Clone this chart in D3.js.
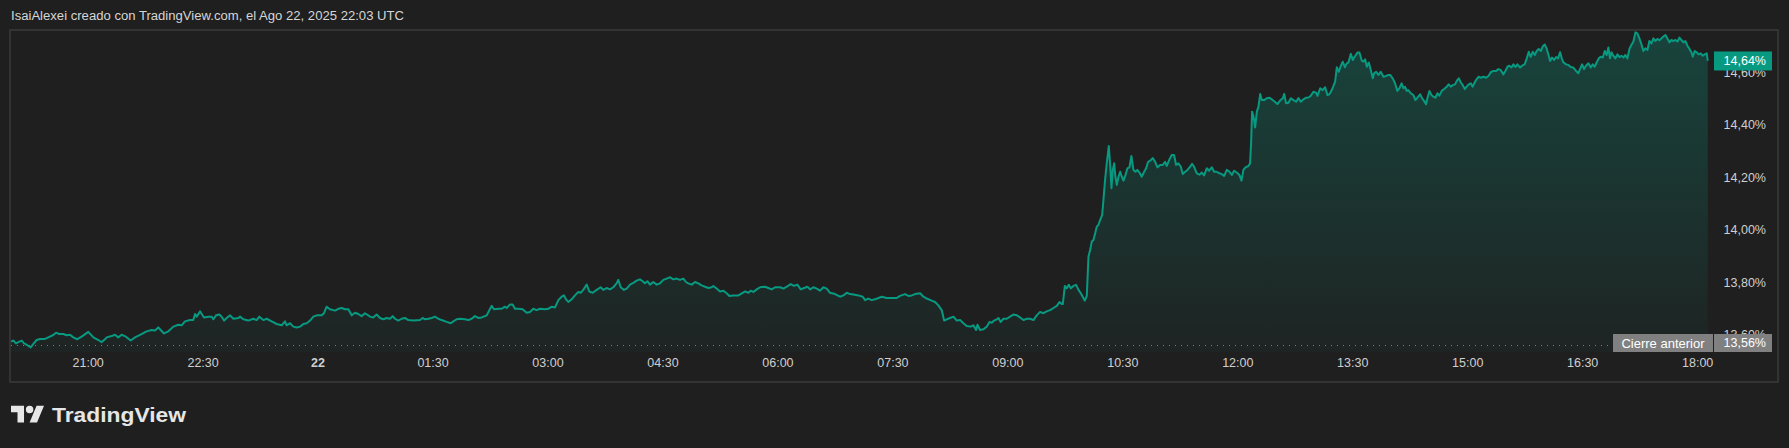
<!DOCTYPE html>
<html><head><meta charset="utf-8">
<script src="https://cdn.jsdelivr.net/npm/d3@7"></script>
<style>html,body{margin:0;padding:0;background:#1f1f1f;overflow:hidden}svg{display:block}</style>
</head><body><svg id="c" width="1789" height="448"></svg>
<script>
const titleText = "IsaiAlexei creado con TradingView.com, el Ago 22, 2025 22:03 UTC";
const startTime = "2025-08-21T20:00:00Z";
const endMinute = 1328.5;
// minutes elapsed since startTime
const minutes = [
0,1.8,3.9,5.7,8.4,10.2,12.3,15.4,17.5,20.1,22.7,26.6,29.2,33.1,35.2,37.8,41.0,43.6,46.2,48.8,51.9,55.3,60.5,64.5,68.4,71.0,73.6,74.9,78.8,81.4,84.0,86.6,89.2,93.7,97.1,101.0,106.2,110.1,112.7,115.3,117.2,119.8,123.2,127.1,131.0,133.6,136.2,140.1,142.7,144.1,145.4,148.0,149.3,151.1,154.5,157.1,158.4,160.5,163.1,164.9,166.8,168.8,171.5,174.1,178.0,179.3,181.9,185.8,189.7,192.3,194.4,197.5,200.2,204.1,208.0,211.9,214.5,215.8,218.4,221.0,223.6,226.3,228.9,231.5,234.1,236.7,239.3,243.2,245.0,247.1,249.7,253.7,256.3,258.9,261.5,264.1,266.7,269.3,271.9,274.5,277.1,279.7,
281.0,283.6,286.2,288.9,291.5,294.1,296.7,298.8,300.6,303.2,305.8,308.4,311.0,315.0,320.2,322.3,324.1,326.7,329.3,331.9,334.5,337.1,341.1,344.2,346.3,348.9,351.5,355.4,358.0,360.6,363.2,365.8,368.5,372.4,374.5,376.3,378.1,381.5,384.1,386.7,388.0,390.6,392.7,394.5,397.2,400.5,403.7,406.3,408.9,411.5,414.1,418.0,420.6,423.3,425.9,428.5,431.1,432.9,434.5,436.3,438.9,441.5,444.1,446.0,448.0,450.7,452.7,455.4,458.5,461.6,463.7,466.3,468.9,471.5,474.1,475.4,477.3,479.9,482.0,484.6,487.2,489.8,492.4,494.5,496.3,498.2,500.2,502.8,505.5,508.1,510.7,513.3,515.9,518.5,521.1,523.7,526.3,528.4,530.2,532.9,535.5,538.1,540.7,543.3,545.9,548.5,549.8,552.4,
555.1,557.7,560.3,562.4,565.5,569.5,572.1,574.7,577.3,579.1,581.2,583.8,586.4,590.3,592.9,595.5,598.2,602.1,604.7,607.3,610.4,613.0,615.6,618.3,620.9,623.5,625.6,628.2,630.8,633.4,636.0,638.6,641.2,645.1,649.0,651.7,654.3,656.9,659.5,663.4,666.8,668.6,671.2,673.8,676.4,679.1,681.7,685.6,689.5,693.4,696.0,699.9,702.5,705.2,707.8,711.7,714.3,716.9,720.8,723.4,726.0,728.6,730.5,732.6,735.2,737.8,740.4,743.0,745.6,748.2,751.3,753.4,755.5,756.6,758.6,761.3,763.9,766.0,767.8,769.6,771.7,773.0,774.8,776.9,779.5,782.1,784.7,787.4,790.0,792.6,795.2,797.8,800.4,803.0,805.6,808.2,810.8,813.5,816.1,818.7,820.8,822.6,
823.4,825.0,826.5,828.1,829.7,831.7,833.8,835.7,837.5,839.0,840.6,842.2,843.5,844.8,846.1,847.4,848.7,850.0,851.3,852.6,854.2,855.2,856.5,857.8,859.4,860.4,861.5,862.5,863.6,864.6,865.7,867.0,868.3,869.6,870.9,872.5,874.0,875.6,877.1,878.7,880.3,881.8,883.4,885.2,887.1,888.6,890.2,891.8,893.8,895.7,897.5,899.6,901.7,903.5,904.8,906.9,908.7,910.5,912.1,913.9,915.8,917.3,919.2,921.0,923.1,924.6,926.2,928.3,930.4,932.2,934.0,936.1,938.0,940.0,941.9,943.9,946.0,947.9,949.7,951.8,953.9,955.7,957.5,959.6,961.7,963.3,964.8,966.4,968.7,970.0,970.8,971.6,972.7,974.0,975.3,976.6,977.9,979.2,981.0,983.1,985.2,987.0,989.6,991.4,993.5,995.6,996.7,998.2,1000.1,1001.9,1004.0,1006.1,1007.9,1009.7,1011.8,1013.9,1015.7,1017.5,1019.6,1021.7,1022.8,1024.9,1026.9,1028.8,1030.6,1032.2,1034.0,1035.3,1036.6,1037.9,1039.5,1041.0,1042.6,1044.2,1045.7,1047.0,1048.9,1050.4,1052.3,1054.1,1055.6,1057.5,1058.8,1060.1,1061.4,1063.0,1064.5,1066.1,1067.1,1068.7,1070.5,1072.3,1074.4,1076.5,1078.3,
1079.6,1081.7,1083.5,1085.3,1086.9,1088.7,1090.0,1091.3,1092.6,1093.9,1095.8,1097.9,1099.4,1101.0,1103.1,1104.7,1106.2,1107.8,1108.8,1110.4,1112.0,1113.5,1115.1,1116.7,1118.2,1120.1,1121.9,1124.0,1125.5,1127.1,1128.7,1130.5,1131.8,1133.4,1134.9,1136.5,1138.1,1139.6,1141.2,1142.8,1144.3,1145.9,1147.4,1149.0,1150.6,1152.7,1154.8,1156.8,1158.4,1160.5,1162.6,1164.4,1166.2,1168.3,1169.9,1171.5,1173.0,1174.6,1176.2,1177.7,1179.3,1181.4,1182.9,1185.0,1186.6,1188.2,1189.7,1191.3,1192.9,1194.4,1196.0,1197.6,1199.1,1200.7,1202.3,1203.8,1204.9,1206.4,1208.0,1209.6,1211.1,1212.7,1214.0,1215.3,1217.4,1219.2,1221.0,1223.1,1225.2,1227.0,1228.3,1229.9,1231.5,1233.0,1234.9,1236.7,1238.3,1239.8,1241.4,1243.0,1244.5,1246.1,1247.7,1249.2,1250.5,1251.8,1252.9,1254.4,1256.0,1257.6,1259.1,1260.7,1262.3,1263.8,1265.4,1267.0,1268.5,1270.1,1271.7,1273.2,1274.8,1276.4,1277.9,1279.5,1281.1,1282.6,1284.2,1285.8,1287.3,1288.9,1290.5,1292.0,1293.6,1295.2,1296.7,1298.3,1299.9,1301.4,1303.0,1304.6,1306.1,1307.7,1309.3,1310.8,1312.4,1314.0,1315.5,1316.6,1318.1,1319.7,1321.2,1322.8,1324.4,1325.9,1327.5,1328.3
];
// yield, percent
const values = [
13.573,13.577,13.566,13.571,13.577,13.566,13.561,13.551,13.564,13.579,13.583,13.583,13.589,13.598,13.607,13.602,13.602,13.597,13.599,13.589,13.582,13.592,13.610,13.589,13.579,13.571,13.582,13.589,13.594,13.599,13.589,13.599,13.594,13.577,13.589,13.599,13.612,13.617,13.615,13.627,13.617,13.604,13.612,13.630,13.637,13.635,13.650,13.655,13.655,13.678,13.668,13.688,13.678,13.665,13.668,13.668,13.658,13.673,13.676,13.668,13.653,13.663,13.673,13.660,13.663,13.668,13.658,13.653,13.660,13.655,13.668,13.655,13.660,13.650,13.640,13.635,13.650,13.635,13.643,13.630,13.627,13.630,13.640,13.643,13.653,13.668,13.673,13.673,13.681,13.706,13.696,13.691,13.698,13.701,13.696,13.696,13.673,13.683,13.678,13.670,13.681,13.673,
13.668,13.665,13.676,13.663,13.658,13.663,13.660,13.670,13.660,13.653,13.660,13.663,13.655,13.653,13.655,13.663,13.658,13.660,13.663,13.668,13.660,13.655,13.648,13.643,13.650,13.658,13.660,13.658,13.655,13.660,13.670,13.663,13.665,13.673,13.693,13.709,13.696,13.698,13.698,13.706,13.701,13.714,13.714,13.698,13.698,13.696,13.683,13.686,13.698,13.693,13.698,13.696,13.698,13.706,13.703,13.731,13.744,13.749,13.734,13.724,13.734,13.749,13.762,13.759,13.770,13.790,13.764,13.759,13.770,13.780,13.770,13.777,13.772,13.780,13.795,13.808,13.780,13.770,13.775,13.790,13.797,13.805,13.810,13.803,13.795,13.803,13.790,13.800,13.790,13.795,13.808,13.813,13.818,13.810,13.813,13.808,13.813,13.800,13.795,13.790,13.800,13.795,13.787,13.782,13.777,13.780,13.785,13.775,
13.764,13.767,13.757,13.747,13.749,13.749,13.757,13.764,13.759,13.767,13.762,13.772,13.780,13.782,13.777,13.772,13.780,13.780,13.775,13.782,13.792,13.785,13.790,13.772,13.777,13.782,13.772,13.780,13.775,13.767,13.780,13.775,13.759,13.754,13.744,13.749,13.759,13.754,13.752,13.749,13.744,13.731,13.737,13.731,13.734,13.739,13.744,13.739,13.739,13.739,13.747,13.754,13.747,13.749,13.754,13.757,13.744,13.737,13.729,13.724,13.711,13.693,13.653,13.658,13.663,13.668,13.653,13.655,13.643,13.632,13.630,13.635,13.617,13.637,13.617,13.620,13.630,13.648,13.645,13.653,13.658,13.663,13.648,13.660,13.660,13.668,13.676,13.673,13.665,13.655,13.660,13.660,13.655,13.673,13.686,13.681,13.688,13.693,13.701,13.709,13.724,13.716,
13.716,13.785,13.776,13.789,13.776,13.785,13.789,13.770,13.757,13.744,13.729,13.747,13.897,13.922,13.954,13.960,13.985,14.011,14.017,14.036,14.055,14.112,14.189,14.252,14.318,14.252,14.157,14.227,14.252,14.201,14.170,14.201,14.220,14.201,14.186,14.208,14.233,14.237,14.280,14.227,14.220,14.227,14.217,14.201,14.220,14.233,14.258,14.262,14.272,14.258,14.237,14.246,14.246,14.258,14.242,14.267,14.284,14.284,14.246,14.252,14.239,14.211,14.220,14.227,14.239,14.250,14.239,14.214,14.209,14.217,14.206,14.233,14.224,14.237,14.220,14.220,14.214,14.211,14.204,14.227,14.220,14.208,14.224,14.217,14.208,14.186,14.227,14.237,14.242,14.252,14.328,14.449,14.430,14.389,14.449,14.468,14.516,14.493,14.493,14.500,14.502,14.496,14.486,14.478,14.491,14.500,14.516,14.481,14.483,14.500,14.493,14.487,14.501,14.487,14.496,14.502,14.503,14.509,14.525,14.521,14.509,14.538,14.531,14.542,14.512,14.516,14.531,14.547,14.563,14.618,14.601,14.623,14.639,14.618,14.633,14.636,14.669,14.646,14.661,14.674,14.674,14.643,14.639,14.648,14.620,14.636,14.608,14.576,14.595,14.601,14.589,14.601,14.582,14.585,14.589,
14.589,14.576,14.557,14.528,14.538,14.557,14.538,14.544,14.528,14.531,14.519,14.512,14.493,14.502,14.515,14.500,14.490,14.477,14.500,14.528,14.512,14.506,14.502,14.519,14.510,14.528,14.535,14.544,14.553,14.544,14.550,14.553,14.566,14.576,14.561,14.550,14.535,14.544,14.553,14.557,14.544,14.561,14.573,14.582,14.578,14.582,14.578,14.586,14.599,14.604,14.604,14.611,14.608,14.591,14.604,14.620,14.624,14.617,14.629,14.619,14.629,14.617,14.624,14.629,14.652,14.677,14.658,14.677,14.665,14.680,14.688,14.680,14.697,14.705,14.688,14.662,14.642,14.655,14.646,14.657,14.652,14.675,14.652,14.637,14.629,14.627,14.619,14.617,14.604,14.595,14.611,14.629,14.611,14.624,14.633,14.617,14.629,14.620,14.637,14.652,14.658,14.655,14.680,14.665,14.693,14.652,14.675,14.662,14.652,14.667,14.657,14.662,14.655,14.665,14.652,14.688,14.703,14.716,14.751,14.747,14.728,14.705,14.680,14.690,14.684,14.718,14.709,14.728,14.718,14.726,14.721,14.728,14.735,14.741,14.728,14.713,14.722,14.718,14.722,14.716,14.731,14.722,14.713,14.718,14.700,14.688,14.675,14.658,14.680,14.675,14.667,14.671,14.662,14.667,14.671,14.642
];
const previousClose = 13.56;
const previousCloseLabel = "Cierre anterior";
const priceTicks = [13.6, 13.8, 14.0, 14.2, 14.4, 14.6];
const timeTicks = ["2025-08-21T21:00:00Z","2025-08-21T22:30:00Z","2025-08-22T00:00:00Z","2025-08-22T01:30:00Z","2025-08-22T03:00:00Z","2025-08-22T04:30:00Z","2025-08-22T06:00:00Z","2025-08-22T07:30:00Z","2025-08-22T09:00:00Z","2025-08-22T10:30:00Z","2025-08-22T12:00:00Z","2025-08-22T13:30:00Z","2025-08-22T15:00:00Z","2025-08-22T16:30:00Z","2025-08-22T18:00:00Z"];
const timeTickLabels = ["21:00","22:30","22","01:30","03:00","04:30","06:00","07:30","09:00","10:30","12:00","13:30","15:00","16:30","18:00"];

const FONT = "'Liberation Sans', Arial, sans-serif";
const t0 = new Date(startTime);
const toDate = m => new Date(t0.getTime() + m * 60000);
const data = minutes.map((m, i) => ({ t: toDate(m), v: values[i] }));
const fmt = v => d3.format(".2f")(v).replace(".", ",") + "%";

const svg = d3.select("#c");
svg.append("rect").attr("width", 1789).attr("height", 448).attr("fill", "#1f1f1f");

const x = d3.scaleUtc().domain([t0, toDate(endMinute)]).range([11, 1708]);
const y = d3.scaleLinear().domain([13.56, 14.64]).range([345, 61.5]);

// title
svg.append("text").attr("x", 11).attr("y", 20).attr("fill", "#d6d6d6")
  .attr("font-family", FONT).attr("font-size", 12).attr("textLength", 393)
  .attr("lengthAdjust", "spacingAndGlyphs").text(titleText);

// pane border
svg.append("rect").attr("x", 10).attr("y", 30).attr("width", 1768).attr("height", 352)
  .attr("fill", "none").attr("stroke", "#333333").attr("stroke-width", 2);

const defs = svg.append("defs");
defs.append("clipPath").attr("id", "plotClip").append("rect")
  .attr("x", 11).attr("y", 31).attr("width", 1701).attr("height", 321);
const grad = defs.append("linearGradient").attr("id", "areaGrad")
  .attr("gradientUnits", "userSpaceOnUse").attr("x1", 0).attr("x2", 0).attr("y1", 30).attr("y2", 352);
grad.append("stop").attr("offset", 0).attr("stop-color", "#089981").attr("stop-opacity", 0.3);
grad.append("stop").attr("offset", 1).attr("stop-color", "#089981").attr("stop-opacity", 0.04);

const plot = svg.append("g").attr("clip-path", "url(#plotClip)");
plot.append("path").datum(data)
  .attr("d", d3.area().x(d => x(d.t)).y0(352).y1(d => y(d.v)))
  .attr("fill", "url(#areaGrad)");

// previous close dotted line
plot.append("line").attr("x1", 11).attr("x2", 1712)
  .attr("y1", Math.round(y(previousClose)) + 0.5).attr("y2", Math.round(y(previousClose)) + 0.5)
  .attr("stroke", "#7a7a7a").attr("stroke-width", 1).attr("stroke-dasharray", "1,5");

plot.append("path").datum(data)
  .attr("d", d3.line().x(d => x(d.t)).y(d => y(d.v)))
  .attr("fill", "none").attr("stroke", "#089981").attr("stroke-width", 2)
  .attr("stroke-linejoin", "round");

// price axis
const yAxis = svg.append("g").attr("transform", "translate(1766,0)")
  .call(d3.axisRight(y).tickValues(priceTicks).tickFormat(fmt).tickSize(0).tickPadding(0));
yAxis.select(".domain").remove();
yAxis.selectAll("text").attr("text-anchor", "end").attr("fill", "#cfcfcf")
  .attr("font-family", FONT).attr("font-size", 12.5);

// time axis
const xAxis = svg.append("g").attr("transform", "translate(0,358)")
  .call(d3.axisBottom(x).tickValues(timeTicks.map(s => new Date(s)))
    .tickFormat((d, i) => timeTickLabels[i]).tickSize(0).tickPadding(0));
xAxis.select(".domain").remove();
xAxis.selectAll("text").attr("fill", "#cfcfcf").attr("font-family", FONT)
  .attr("font-size", 12.5).attr("dy", "0.71em")
  .attr("font-weight", (d, i) => timeTickLabels[i].indexOf(":") < 0 ? "bold" : "normal");

// last value label
const last = data[data.length - 1];
const ly = y(last.v);
svg.append("rect").attr("x", 1714).attr("y", ly - 9.5).attr("width", 58).attr("height", 19)
  .attr("fill", "#089981");
svg.append("text").attr("x", 1766).attr("y", ly).attr("dy", "0.35em").attr("text-anchor", "end")
  .attr("fill", "#ffffff").attr("font-family", FONT).attr("font-size", 12.5).text(fmt(last.v));

// previous close labels
const py = y(previousClose);
svg.append("rect").attr("x", 1613).attr("y", py - 11).attr("width", 100).attr("height", 18)
  .attr("fill", "#808080");
svg.append("text").attr("x", 1663).attr("y", py - 2).attr("dy", "0.35em").attr("text-anchor", "middle")
  .attr("fill", "#ffffff").attr("font-family", FONT).attr("font-size", 13).text(previousCloseLabel);
svg.append("rect").attr("x", 1714).attr("y", py - 11).attr("width", 58).attr("height", 18)
  .attr("fill", "#808080");
svg.append("text").attr("x", 1766).attr("y", py - 2).attr("dy", "0.35em").attr("text-anchor", "end")
  .attr("fill", "#ffffff").attr("font-family", FONT).attr("font-size", 12.5).text(fmt(previousClose));

// TradingView logo
const logo = svg.append("g").attr("transform", "translate(11,402) scale(0.93)").attr("fill", "#e6e6e6");
logo.append("path").attr("d", "M14 22H7V11H0V4h14v18zM28 22h-8l7.5-18h8L28 22z");
logo.append("circle").attr("cx", 20).attr("cy", 8).attr("r", 4);
svg.append("text").attr("x", 52).attr("y", 421.5).attr("fill", "#e6e6e6")
  .attr("font-family", FONT).attr("font-weight", "bold").attr("font-size", 21)
  .attr("textLength", 134).attr("lengthAdjust", "spacingAndGlyphs").text("TradingView");
</script></body></html>
